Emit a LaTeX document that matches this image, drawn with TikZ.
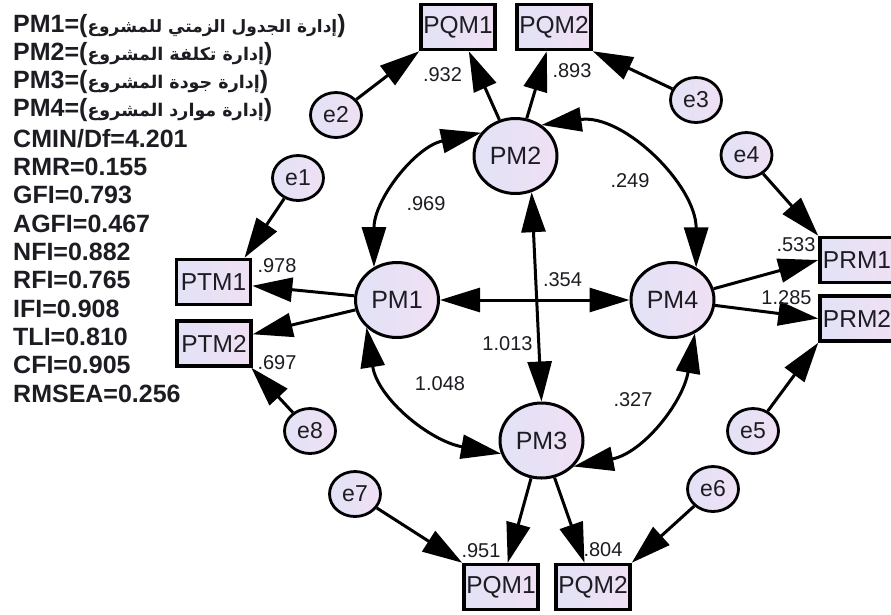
\documentclass[tikz,border=0pt]{standalone}
\usepackage{fontspec}
\setmainfont{Liberation Sans}
\newfontfamily\arabicfont[Script=Arabic]{DejaVu Sans}
\TeXXeTstate=1
\usetikzlibrary{arrows.meta,shapes.geometric}

\definecolor{lavL}{RGB}{226,226,246}
\definecolor{lavR}{RGB}{240,224,244}
\definecolor{ink}{RGB}{28,28,34}

\begin{document}
\begin{tikzpicture}[x=1pt,y=-1pt,
  latent/.style={ellipse, draw=black, line width=3pt, minimum width=83pt, minimum height=75pt,
    inner sep=0pt, left color=lavL, right color=lavR, text=ink, font=\fontsize{25}{25}\selectfont},
  errvar/.style={ellipse, draw=black, line width=2.8pt, minimum width=51pt, minimum height=45pt,
    inner sep=0pt, left color=lavL, right color=lavR, text=ink, font=\fontsize{23}{23}\selectfont},
  obs/.style={rectangle, draw=black, line width=3.5pt, minimum width=74pt, minimum height=45pt,
    inner sep=0pt, left color=lavL, right color=lavR, text=ink, font=\fontsize{24.5}{24.5}\selectfont},
  reg/.style={line width=3pt, -{Triangle[length=40pt,width=24pt]}},
  cov/.style={line width=3pt, {Triangle[length=40pt,width=24pt]}-{Triangle[length=40pt,width=24pt]}},
  coef/.style={inner sep=0pt, text=ink, font=\fontsize{20}{20}\selectfont},
  fitline/.style={anchor=base west, inner sep=0pt, text=ink, font=\bfseries\fontsize{25}{25}\selectfont}
]
\fill[white] (0,0) rectangle (891,614);
\useasboundingbox (0,0) rectangle (891,614);

% legend and fit indices
\node[fitline] (d1) at (13,32) {PM1=({\arabicfont\bfseries\fontsize{17}{17}\selectfont\beginR إدارة الجدول الزمتي للمشروع\endR})};
\node[fitline] (d2) at (13,60) {PM2=({\arabicfont\bfseries\fontsize{17.5}{17.5}\selectfont\beginR إدارة تكلفة المشروع\endR})};
\node[fitline] (d3) at (13,88) {PM3=({\arabicfont\bfseries\fontsize{17.5}{17.5}\selectfont\beginR إدارة جودة المشروع\endR})};
\node[fitline] (d4) at (13,116) {PM4=({\arabicfont\bfseries\fontsize{17.5}{17.5}\selectfont\beginR إدارة موارد المشروع\endR})};
\node[fitline] (f1) at (13,147) {CMIN/Df=4.201};
\node[fitline] (f2) at (13,175.3) {RMR=0.155};
\node[fitline] (f3) at (13,203.7) {GFI=0.793};
\node[fitline] (f4) at (13,232) {AGFI=0.467};
\node[fitline] (f5) at (13,260.3) {NFI=0.882};
\node[fitline] (f6) at (13,288.7) {RFI=0.765};
\node[fitline] (f7) at (13,317) {IFI=0.908};
\node[fitline] (f8) at (13,345.3) {TLI=0.810};
\node[fitline] (f9) at (13,373.7) {CFI=0.905};
\node[fitline] (f10) at (13,402) {RMSEA=0.256};

% latent variables
\node[latent] (PM1) at (397,300) {PM1};
\node[latent] (PM2) at (515.5,156) {PM2};
\node[latent] (PM3) at (541.5,440.5) {PM3};
\node[latent] (PM4) at (672.5,300) {PM4};

% indicators
\node[obs] (PQM1t) at (458,27) {PQM1};
\node[obs] (PQM2t) at (554,27) {PQM2};
\node[obs] (PTM1) at (213.5,282) {PTM1};
\node[obs] (PTM2) at (214,343.5) {PTM2};
\node[obs] (PRM1) at (857,260) {PRM1};
\node[obs] (PRM2) at (857,318.5) {PRM2};
\node[obs] (PQM1b) at (501,587) {PQM1};
\node[obs] (PQM2b) at (593,587) {PQM2};

% error terms
\node[errvar] (e1) at (298,178) {e1};
\node[errvar] (e2) at (336,115) {e2};
\node[errvar] (e3) at (696,100) {e3};
\node[errvar] (e4) at (746.5,155) {e4};
\node[errvar] (e5) at (753,431) {e5};
\node[errvar] (e6) at (713,489) {e6};
\node[errvar] (e7) at (355,494) {e7};
\node[errvar] (e8) at (310,431) {e8};

% loadings
\draw[reg] (PM2) -- (PQM1t);
\draw[reg] (PM2) -- (PQM2t);
\draw[reg] (PM1) -- (PTM1);
\draw[reg] (PM1) -- (PTM2);
\draw[reg] (PM4) -- (PRM1.west);
\draw[reg] (PM4) -- (PRM2.west);
\draw[reg] (PM3) -- (PQM1b);
\draw[reg] (PM3) -- (PQM2b);

% error paths
\draw[reg] (e1) -- (PTM1.38);
\draw[reg] (e2) -- (PQM1t.south west);
\draw[reg] (e3) -- (PQM2t.south east);
\draw[reg] (e4) -- (PRM1.north west);
\draw[reg] (e5) -- (PRM2.south west);
\draw[reg] (e6) -- (PQM2b.north east);
\draw[reg] (e7) -- (PQM1b.north west);
\draw[reg] (e8) -- (PTM2.-33);

% covariances
\draw[cov] (PM1) -- (PM4);
\draw[cov] (PM2.-66) -- (PM3.north);
\draw[cov] (PM2.146) to[out=192, in=90] (PM1.125);
\draw[cov] (PM2.50) to[out=8, in=90] (PM4.54);
\draw[cov] (PM4.-56) to[out=260, in=11] (PM3.-39);
\draw[cov] (PM1.-138) to[out=-81, in=170] (PM3.-162);

% estimates
\node[coef] (c1) at (442.5,74.5) {.932};
\node[coef] (c2) at (572,70.5) {.893};
\node[coef] (c3) at (277,265.5) {.978};
\node[coef] (c4) at (277,362.5) {.697};
\node[coef] (c5) at (426,203.5) {.969};
\node[coef] (c6) at (630,180.5) {.249};
\node[coef] (c7) at (562.5,279.5) {.354};
\node[coef] (c8) at (507.5,343.5) {1.013};
\node[coef] (c9) at (440,383.5) {1.048};
\node[coef] (c10) at (633,400) {.327};
\node[coef] (c11) at (796,244.5) {.533};
\node[coef] (c12) at (786.5,297.5) {1.285};
\node[coef] (c13) at (481,550.5) {.951};
\node[coef] (c14) at (603,550) {.804};
\end{tikzpicture}
\end{document}
